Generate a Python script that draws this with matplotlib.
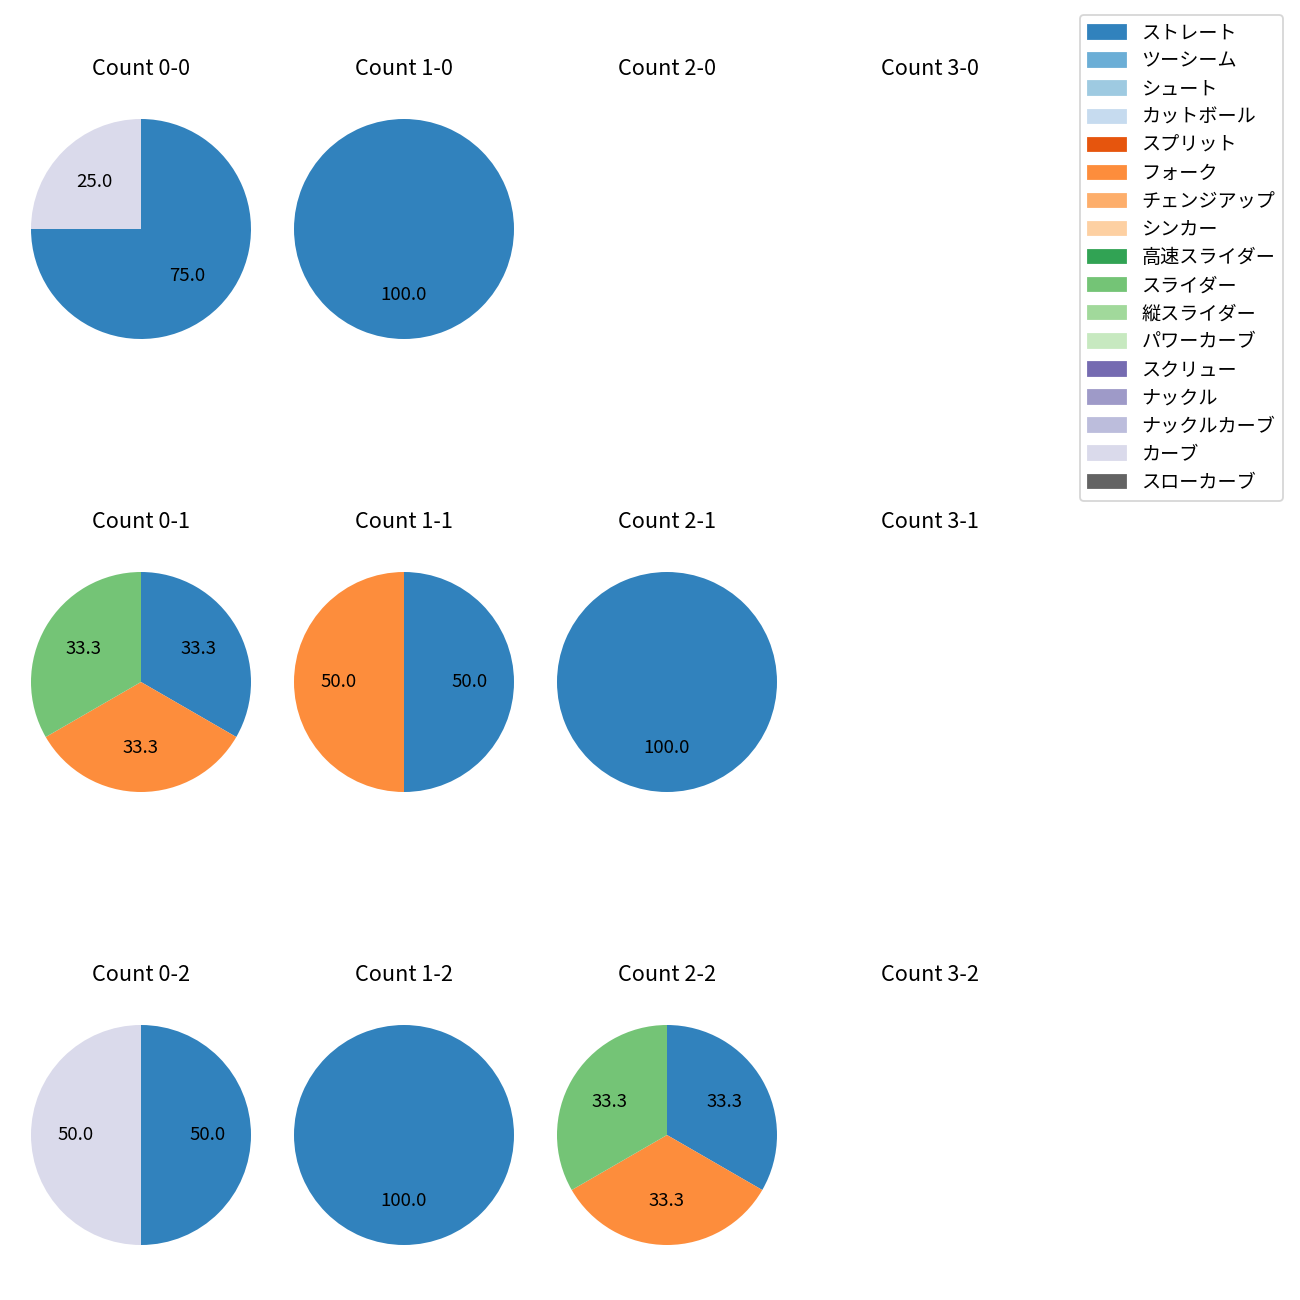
import numpy as np
import matplotlib
matplotlib.use('Agg')
import matplotlib.pyplot as plt
from matplotlib.patches import Patch

plt.rcParams['font.family'] = ['Noto Sans CJK JP', 'DejaVu Sans']

# pitch types (legend order)
pitch_types = ['ストレート', 'ツーシーム', 'シュート', 'カットボール', 'スプリット', 'フォーク',
               'チェンジアップ', 'シンカー', '高速スライダー', 'スライダー', '縦スライダー',
               'パワーカーブ', 'スクリュー', 'ナックル', 'ナックルカーブ', 'カーブ', 'スローカーブ']

# counts: balls 0-3 (columns), strikes 0-2 (rows)
balls = [0, 1, 2, 3]
strikes = [0, 1, 2]

# pitches per count, ordered row by row: 0-0, 1-0, 2-0, 3-0, 0-1, ..., 3-2
straight = [3, 1, 0, 0, 1, 1, 1, 0, 1, 1, 1, 0]
fork     = [0, 0, 0, 0, 1, 1, 0, 0, 0, 0, 1, 0]
slider   = [0, 0, 0, 0, 1, 0, 0, 0, 0, 0, 1, 0]
curve    = [1, 0, 0, 0, 0, 0, 0, 0, 1, 0, 0, 0]

series = {'ストレート': straight, 'フォーク': fork, 'スライダー': slider, 'カーブ': curve}

cmap = plt.get_cmap('tab20c')
colors = {p: cmap(i) for i, p in enumerate(pitch_types)}

fig = plt.figure(figsize=(10, 10), dpi=130)
W = H = 1300
side = 275
for r, s in enumerate(strikes):
    for c, b in enumerate(balls):
        k = r * len(balls) + c
        cx = 141 + 263 * c
        cy = 229 + 453 * r
        ax = fig.add_axes([(cx - side / 2) / W, 1 - (cy + side / 2) / H, side / W, side / H])
        vals, cols = [], []
        for p in pitch_types:
            if p in series and series[p][k] > 0:
                vals.append(series[p][k])
                cols.append(colors[p])
        if vals:
            ax.pie(vals, colors=cols, autopct='%.1f', startangle=90, counterclock=False,
                   textprops={'fontsize': 10.3})
        else:
            ax.axis('off')
            ax.set_aspect('equal')
        ax.set_title(f'Count {b}-{s}', pad=9)

handles = [Patch(color=colors[p], label=p) for p in pitch_types]
fig.legend(handles=handles, loc='upper right', bbox_to_anchor=(1283 / W, 1 - 15 / H),
           borderaxespad=0, fontsize=10.6, labelspacing=0.37)

plt.savefig('out.png', dpi=130)
